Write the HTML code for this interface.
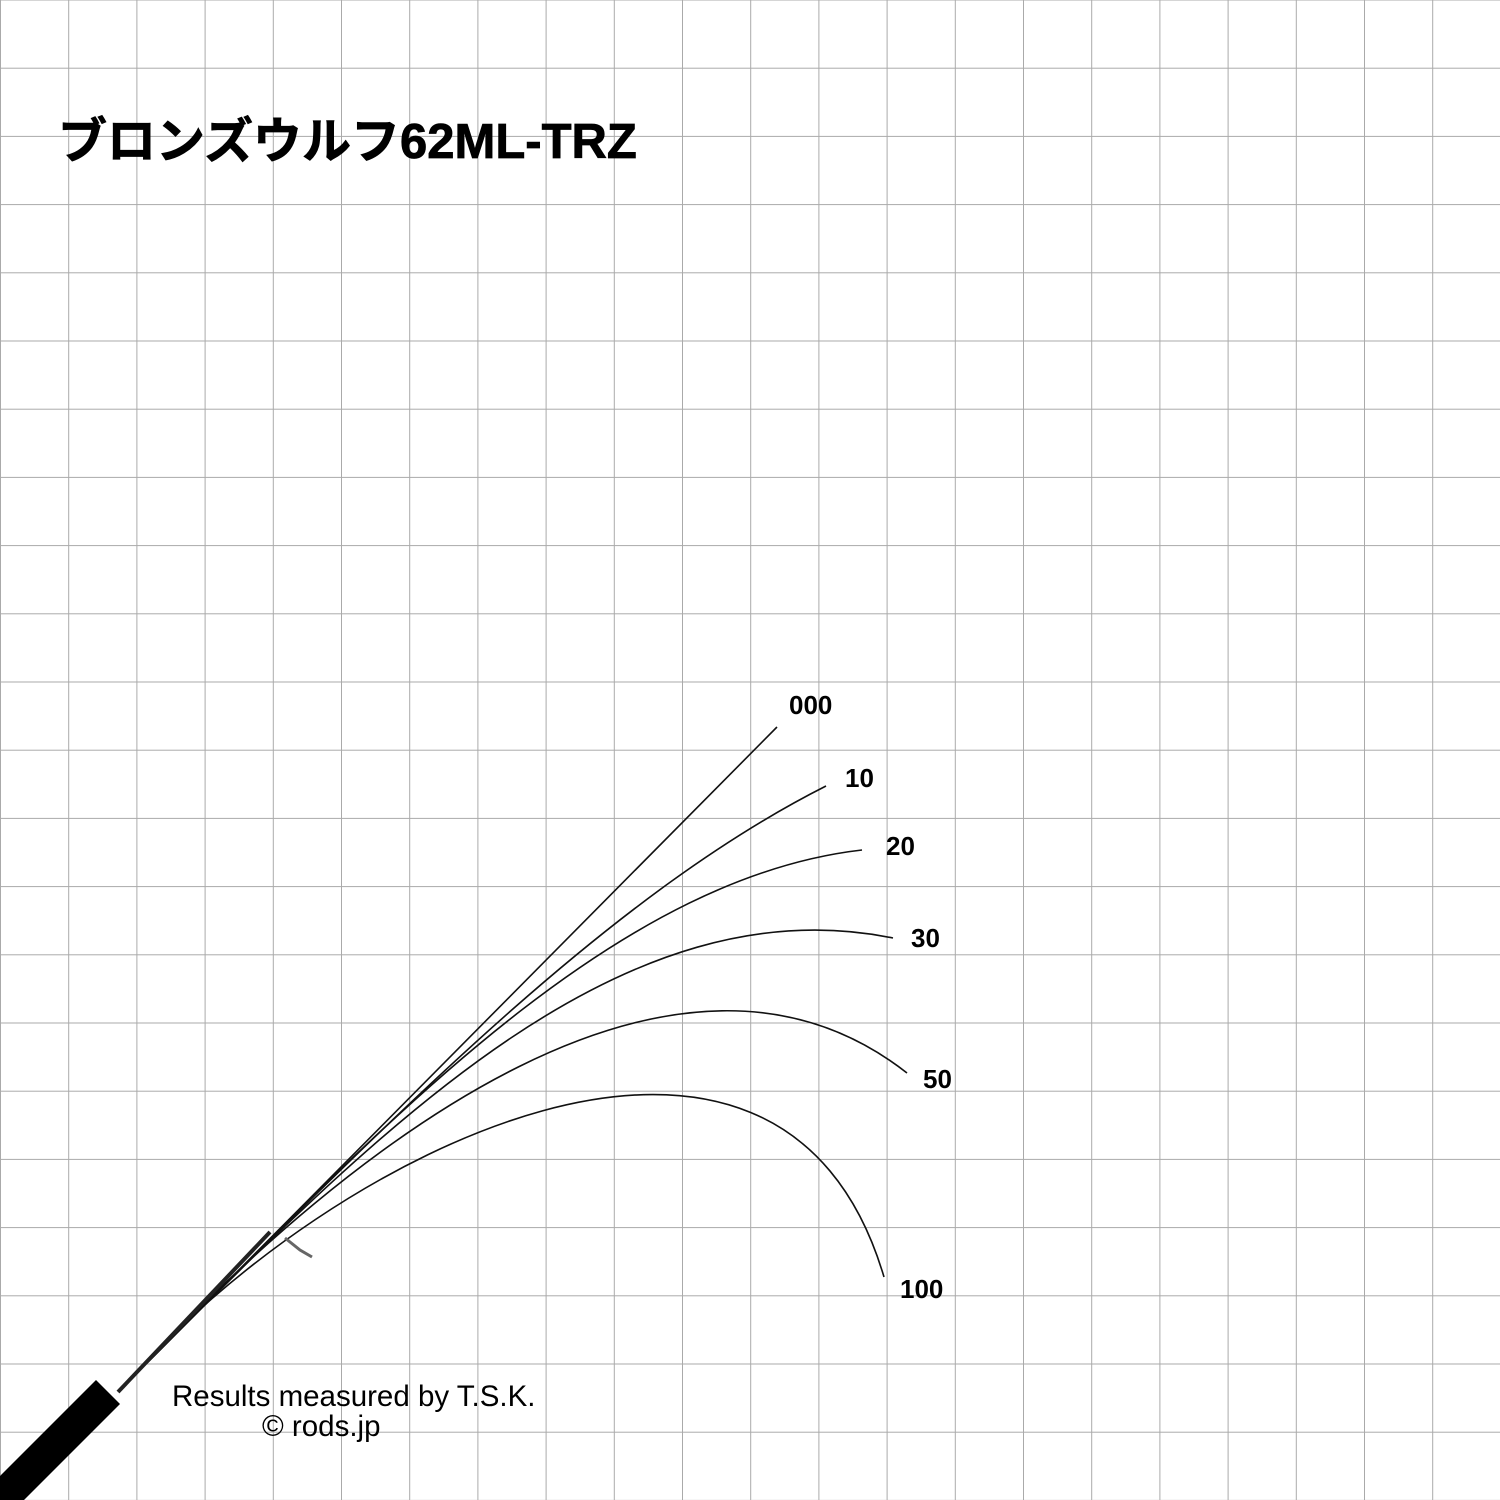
<!DOCTYPE html>
<html><head><meta charset="utf-8"><style>
html,body{margin:0;padding:0;background:#fff}
svg{display:block}
</style></head><body>
<svg width="1500" height="1500" viewBox="0 0 1500 1500" xmlns="http://www.w3.org/2000/svg">
<defs>
<pattern id="g" width="68.2" height="68.2" patternUnits="userSpaceOnUse" x="0" y="-0.5">
<path d="M0.5 0V68.2M0 0.5H68.2" stroke="#aaa" stroke-width="1" fill="none"/>
</pattern>
</defs>
<rect width="1500" height="1500" fill="#fff"/>
<rect width="1500" height="1500" fill="url(#g)"/>
<g fill="none" stroke="#111" stroke-width="1.6">
<path d="M125,1385 L777,727"/>
<path d="M125,1385 C380,1130 600,900 826,786"/>
<path d="M125,1385 C360,1150 600,880 862,850"/>
<path d="M125,1385 C360,1150 610,880 893,938"/>
<path d="M125,1385 C360,1130 680,895 907,1073"/>
<path d="M125,1385 C330,1150 780,925 884,1277"/>
</g>
<path d="M118,1392 L270,1232" stroke="#222" stroke-width="4"/>
<polygon points="96,1380 120,1404 24,1500 0,1500 0,1476" fill="#000"/>
<path d="M285,1238 L300,1250 L312,1257" stroke="#666" stroke-width="3" fill="none"/>
<g font-family="Liberation Sans, sans-serif" font-weight="bold" font-size="26" fill="#000">
<text x="789" y="714">000</text>
<text x="845" y="787">10</text>
<text x="886" y="855">20</text>
<text x="911" y="947">30</text>
<text x="923" y="1088">50</text>
<text x="900" y="1298">100</text>
</g>
<text x="58" y="158" font-family="Liberation Sans, Noto Sans CJK JP, sans-serif" font-weight="bold" font-size="49" fill="#000" stroke="#000" stroke-width="0.8">ブロンズウルフ62ML-TRZ</text>
<g font-family="Liberation Sans, sans-serif" font-size="29.5" fill="#000">
<text x="172" y="1406">Results measured by T.S.K.</text>
<text x="262" y="1436">© rods.jp</text>
</g>
</svg>
</body></html>
